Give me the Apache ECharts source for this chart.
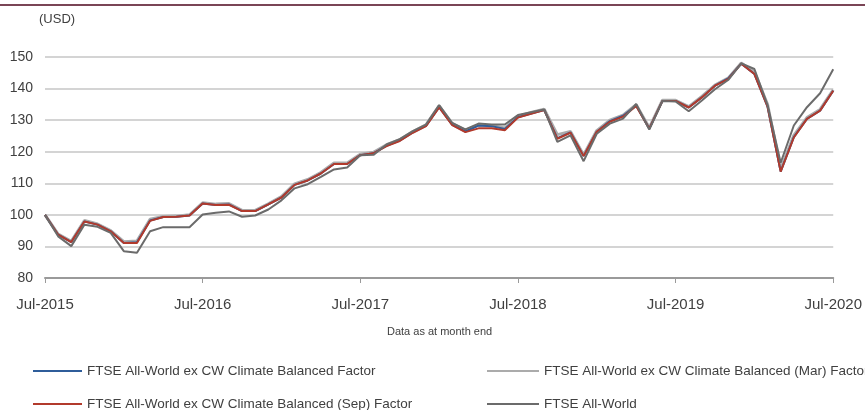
<!DOCTYPE html>
<html>
<head>
<meta charset="utf-8">
<script src="https://cdn.jsdelivr.net/npm/echarts@6/dist/echarts.min.js"></script>
<style>
  html, body { margin: 0; padding: 0; background: #fff; }
  #chart { width: 865px; height: 410px; }
</style>
</head>
<body>
<div id="chart"></div>
<script>
// month-end index levels, Jul-2015 .. Jul-2020
const seriesNames = [
  'FTSE All-World ex CW Climate Balanced Factor',
  'FTSE All-World ex CW Climate Balanced (Mar) Factor',
  'FTSE All-World ex CW Climate Balanced (Sep) Factor',
  'FTSE All-World'
]
const climateBalanced = [
  100, 93.7, 91.4, 97.9, 96.9, 94.8, 91.1, 91.3, 98.2, 99.3, 99.4, 99.8,
  103.6, 103.1, 103.3, 101.2, 101.2, 103.3, 105.5, 109.5, 110.9, 113.1, 116.1, 116.1,
  118.9, 119.5, 121.9, 123.5, 126.1, 128.2, 134.1, 128.5, 126.4, 128.3, 128.1, 127.2,
  130.9, 132.1, 133.2, 124.3, 126.1, 118.6, 126.3, 129.7, 131.4, 134.6, 127.3, 136.1,
  136.1, 134, 137.2, 140.9, 143.2, 147.9, 144.6, 134.3, 113.7, 124.6, 130.4, 133, 139.3
]
const climateMar = [
  100, 93.9, 91.6, 98.2, 97.1, 95, 91.5, 91.7, 98.6, 99.5, 99.6, 100,
  103.8, 103.4, 103.6, 101.4, 101.4, 103.5, 105.8, 109.8, 111.2, 113.4, 116.4, 116.4,
  119.2, 119.8, 122.2, 123.8, 126.4, 128.5, 134.5, 128.9, 126.8, 128.4, 128.2, 127.5,
  131.2, 132.4, 133.5, 125.4, 126.4, 119, 126.7, 130, 131.6, 134.9, 127.6, 136.3,
  136.3, 134.3, 137.5, 141.1, 143.3, 148.1, 145.2, 135, 114.5, 125.2, 130.8, 133.4, 139.6
]
const climateSep = [
  100, 93.7, 91.4, 97.9, 96.9, 94.8, 91.1, 91.1, 98.1, 99.3, 99.4, 99.8,
  103.6, 103.1, 103.2, 101.2, 101.2, 103.3, 105.5, 109.5, 110.9, 113.1, 116.1, 116.1,
  118.9, 119.5, 121.8, 123.4, 126, 128.1, 134, 128.4, 126.2, 127.4, 127.4, 126.8,
  130.8, 132, 133.2, 124.1, 126, 118.6, 126.3, 129.5, 131.1, 134.5, 127.3, 136.1,
  136.1, 134, 137.2, 140.9, 143, 147.9, 144.6, 134.3, 113.7, 124.5, 130.4, 133, 139.3
]
const allWorld = [
  100, 93.2, 90.1, 96.9, 96.2, 94.3, 88.5, 88, 94.8, 96.1, 96.1, 96.1,
  100.1, 100.7, 101.1, 99.4, 99.8, 101.7, 104.6, 108.4, 109.7, 112, 114.4, 115,
  118.9, 119, 122.3, 124, 126.5, 128.6, 134.8, 129.1, 127.1, 128.9, 128.6, 128.6,
  131.6, 132.5, 133.4, 123.1, 125.2, 117, 125.7, 128.9, 130.5, 135.1, 127, 136.1,
  135.9, 132.8, 136.2, 139.8, 142.7, 148, 146.2, 134.8, 116.5, 128.3, 134.1, 138.5, 146.1
]
const yTicks = { min: 80, max: 150, step: 10 }

// month labels
const monthNames = ['Jan', 'Feb', 'Mar', 'Apr', 'May', 'Jun', 'Jul', 'Aug', 'Sep', 'Oct', 'Nov', 'Dec']
const months = []
for (let i = 0; i < climateSep.length; i++) {
  const m = (6 + i) % 12
  const y = 2015 + Math.floor((6 + i) / 12)
  months.push(monthNames[m] + '-' + y)
}

const colors = ['#2f5d9a', '#ababab', '#b23a2c', '#6b6b6b']
const font = "'Liberation Sans', Arial, sans-serif"
const isJuly = (i) => i % 12 === 0

const chart = echarts.init(document.getElementById('chart'), null, { renderer: 'canvas' })

// one legend per entry so each can sit where the reference has it
const legendSpots = [
  { left: 33, top: 364, w: 49 },
  { left: 487, top: 364, w: 52 },
  { left: 33, top: 397, w: 49 },
  { left: 487, top: 397, w: 52 }
]
const legends = legendSpots.map((spot, k) => ({
  left: spot.left,
  top: spot.top,
  padding: 0,
  data: [seriesNames[k]],
  icon: 'rect',
  itemWidth: spot.w,
  itemHeight: 2,
  textStyle: { fontFamily: font, fontSize: 13.5, color: '#404040' },
  selectedMode: false
}))

// light gray (Mar) underneath, All-World on top
const drawOrder = [1, 0, 2, 3]
const values = [climateBalanced, climateMar, climateSep, allWorld]

const option = {
  animation: false,
  color: colors,
  grid: { left: 45, right: 31, top: 57, bottom: 132 },
  legend: legends,
  graphic: [
    {
      type: 'line',
      shape: { x1: 0, y1: 5, x2: 865, y2: 5 },
      style: { stroke: '#7a4556', lineWidth: 2 }
    },
    {
      type: 'text',
      left: 39,
      top: 13,
      style: { text: '(USD)', fontFamily: font, fontSize: 13, fill: '#404040' }
    },
    {
      type: 'text',
      left: 387,
      top: 326,
      style: { text: 'Data as at month end', fontFamily: font, fontSize: 11, fill: '#404040' }
    }
  ],
  xAxis: {
    type: 'category',
    data: months,
    boundaryGap: false,
    axisLine: { lineStyle: { color: '#9a9a9a', width: 2 } },
    axisTick: { interval: isJuly, length: 5, lineStyle: { color: '#9a9a9a', width: 1 } },
    axisLabel: {
      interval: isJuly,
      margin: 19,
      fontFamily: font,
      fontSize: 15,
      color: '#404040'
    },
    splitLine: { show: false }
  },
  yAxis: {
    type: 'value',
    min: yTicks.min,
    max: yTicks.max,
    interval: yTicks.step,
    axisLine: { show: false },
    axisTick: { show: false },
    axisLabel: { margin: 12, fontFamily: font, fontSize: 14, color: '#404040' },
    splitLine: { lineStyle: { color: '#d4d4d4', width: 2 } }
  },
  series: drawOrder.map((k, z) => ({
    name: seriesNames[k],
    type: 'line',
    data: values[k],
    symbol: 'none',
    z: 2 + z,
    itemStyle: { color: colors[k] },
    lineStyle: { color: colors[k], width: k === 1 ? 3 : 2 }
  }))
}

chart.setOption(option)
</script>
</body>
</html>
